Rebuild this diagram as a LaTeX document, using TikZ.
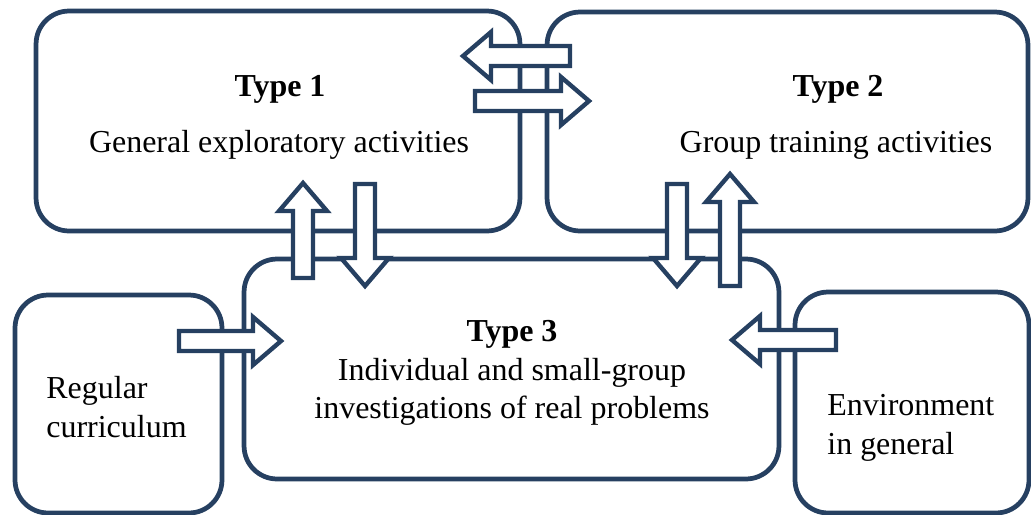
\documentclass[tikz,border=0pt]{standalone}
\usepackage{fontspec}
\setmainfont{Liberation Serif}
\definecolor{boxblue}{RGB}{38,64,97}
% block arrow: tail x, tail y, direction, length
\newcommand\blockarr[4]{%
  \filldraw[barrow,shift={(#1,#2)},rotate=#3] (0,-10) -- (#4-28,-10) -- (#4-28,-24)
    -- (#4,0) -- (#4-28,24) -- (#4-28,10) -- (0,10) -- cycle;}

\begin{document}
\begin{tikzpicture}[x=0.02cm,y=-0.02cm,line width=2.7pt,
  box/.style={draw=boxblue,rounded corners=0.66cm,inner sep=0pt},
  barrow/.style={draw=boxblue,fill=white,line width=2.5pt,line join=miter},
  lbl/.style={font=\fontsize{18.2}{21.8}\selectfont,inner sep=0pt}]
  \useasboundingbox (0,0) rectangle (1031,514);
  % boxes
  \node[box,minimum width=9.68cm,minimum height=4.4cm] (type1) at (278,121) {};
  \node[box,minimum width=9.62cm,minimum height=4.38cm] (type2) at (787.5,121.5) {};
  \node[box,minimum width=10.7cm,minimum height=4.4cm] (type3) at (511.5,369) {};
  \node[box,minimum width=4.14cm,minimum height=4.36cm] (curric) at (118.5,404) {};
  \node[box,minimum width=4.68cm,minimum height=4.42cm] (envir) at (912,402.5) {};
  % texts
  \node[lbl] (type1head) at (280,89) {\textbf{Type 1}};
  \node[lbl] (type1text) at (279,145) {General exploratory activities};
  \node[lbl] (type2head) at (838,89) {\textbf{Type 2}};
  \node[lbl] (type2text) at (836,145) {Group training activities};
  \node[lbl,align=center] (type3text) at (512,373)
    {\textbf{Type 3}\\Individual and small-group\\investigations of real problems};
  \node[lbl,align=left,anchor=west] (currictext) at (44,407) {Regular\\curriculum};
  \node[lbl,align=left,anchor=west] (envirtext) at (825,428) {Environment\\in general};
  % arrows
  \blockarr{570}{56}{180}{107}
  \blockarr{475}{101}{0}{114}
  \blockarr{303}{278}{90}{95}
  \blockarr{365}{184}{-90}{102}
  \blockarr{677}{184}{-90}{102}
  \blockarr{730}{286}{90}{112}
  \blockarr{179}{341}{0}{102}
  \blockarr{836}{340}{180}{104}
\end{tikzpicture}
\end{document}
